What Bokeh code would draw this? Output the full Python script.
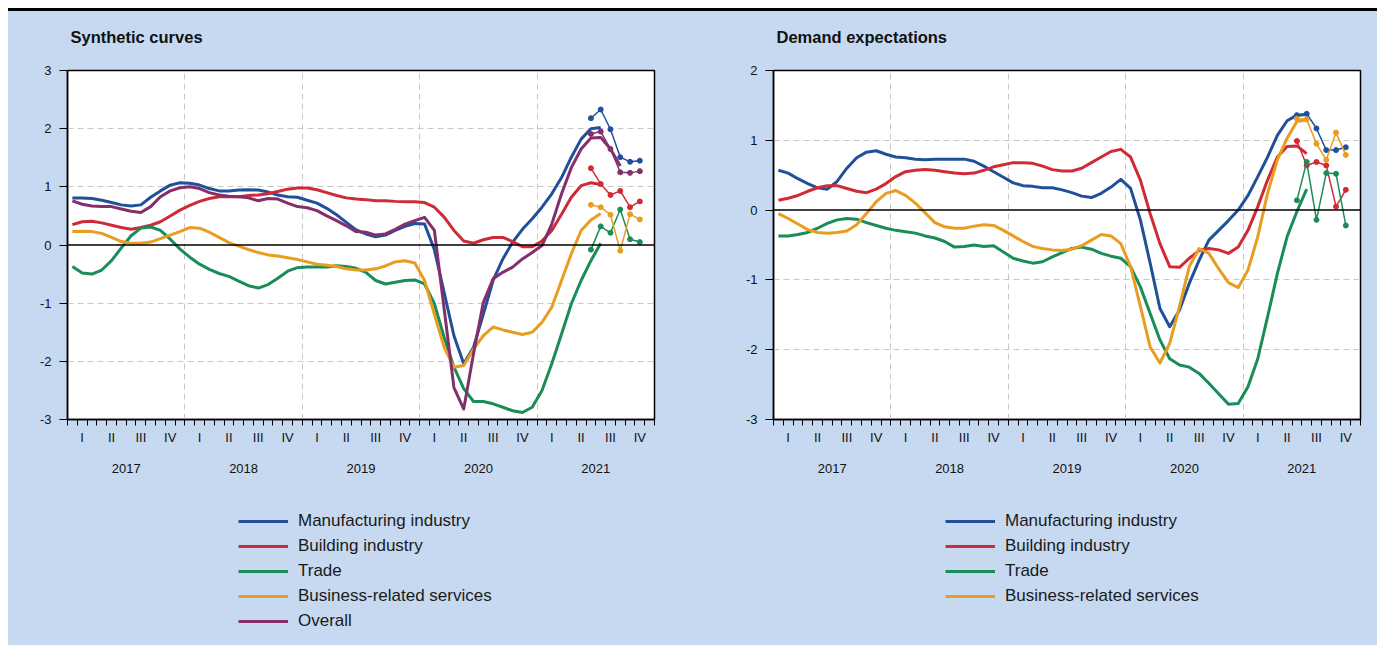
import numpy as np
from bokeh.plotting import figure
from bokeh.models import (Range1d, LinearAxis, FixedTicker, CustomJSTickFormatter, Span,
                          Legend, LegendItem, Div, Grid, Title)
from bokeh.layouts import row, column
from bokeh.embed import file_html
from bokeh.resources import INLINE

# ---------------- data (monthly, Jan 2017 = month 0) ----------------
years = [2017, 2018, 2019, 2020, 2021]
quarters = ["I", "II", "III", "IV"]
series_names = ["Manufacturing industry", "Building industry", "Trade",
                "Business-related services", "Overall"]

# Synthetic curves (Jan 2017 .. Jul 2021; Overall to Sep 2021)
syn_manufacturing = [0.81, 0.81, 0.80, 0.77, 0.73, 0.69, 0.67, 0.69, 0.82, 0.93, 1.03, 1.07,
                     1.06, 1.03, 0.97, 0.93, 0.93, 0.945, 0.95, 0.945, 0.91, 0.86, 0.83, 0.82,
                     0.77, 0.72, 0.63, 0.52, 0.39, 0.26, 0.19, 0.14, 0.17, 0.25, 0.32, 0.37,
                     0.36, -0.08, -0.82, -1.56, -2.04, -1.76, -1.19, -0.61, -0.24, 0.05, 0.27, 0.45,
                     0.65, 0.88, 1.16, 1.51, 1.82, 2.00, 2.02]
syn_building = [0.35, 0.40, 0.41, 0.38, 0.34, 0.30, 0.27, 0.30, 0.34, 0.40, 0.50, 0.60,
                0.68, 0.75, 0.80, 0.83, 0.83, 0.83, 0.85, 0.86, 0.88, 0.92, 0.96, 0.98,
                0.98, 0.95, 0.90, 0.85, 0.81, 0.79, 0.78, 0.76, 0.76, 0.75, 0.745, 0.745,
                0.73, 0.65, 0.48, 0.25, 0.07, 0.03, 0.09, 0.13, 0.13, 0.06, -0.03, -0.03,
                0.07, 0.25, 0.53, 0.82, 1.02, 1.07, 1.04]
syn_trade = [-0.37, -0.48, -0.50, -0.43, -0.27, -0.05, 0.16, 0.29, 0.31, 0.25, 0.10, -0.07,
             -0.21, -0.33, -0.42, -0.49, -0.54, -0.62, -0.70, -0.74, -0.68, -0.57, -0.45, -0.39,
             -0.38, -0.38, -0.38, -0.355, -0.37, -0.40, -0.47, -0.61, -0.67, -0.64, -0.61, -0.60,
             -0.67, -1.01, -1.59, -2.10, -2.47, -2.69, -2.69, -2.73, -2.79, -2.85, -2.88, -2.79,
             -2.50, -2.04, -1.53, -1.01, -0.61, -0.27, 0.03]
syn_services = [0.23, 0.235, 0.23, 0.20, 0.13, 0.06, 0.03, 0.03, 0.05, 0.11, 0.17, 0.23,
                0.30, 0.29, 0.22, 0.13, 0.04, -0.02, -0.08, -0.13, -0.17, -0.19, -0.22, -0.25,
                -0.29, -0.33, -0.35, -0.37, -0.41, -0.43, -0.43, -0.41, -0.36, -0.29, -0.27, -0.31,
                -0.61, -1.19, -1.76, -2.10, -2.07, -1.79, -1.56, -1.41, -1.46, -1.50, -1.54, -1.50,
                -1.33, -1.07, -0.61, -0.15, 0.25, 0.43, 0.54]
syn_overall = [0.76, 0.70, 0.67, 0.66, 0.66, 0.62, 0.58, 0.56, 0.66, 0.83, 0.93, 0.985,
               1.00, 0.97, 0.90, 0.86, 0.84, 0.83, 0.81, 0.76, 0.80, 0.79, 0.72, 0.66,
               0.64, 0.59, 0.50, 0.42, 0.33, 0.23, 0.22, 0.17, 0.19, 0.27, 0.36, 0.42,
               0.475, 0.25, -1.10, -2.45, -2.82, -1.87, -0.99, -0.58, -0.47, -0.38, -0.24, -0.13,
               -0.01, 0.36, 0.88, 1.33, 1.65, 1.84, 1.85, 1.65, 1.36]

# Latest monthly survey points (Jun .. Nov 2021)
point_start = 53
syn_pts_manufacturing = [2.18, 2.33, 1.99, 1.51, 1.43, 1.45]
syn_pts_building = [1.32, 1.05, 0.86, 0.93, 0.65, 0.75]
syn_pts_trade = [-0.08, 0.32, 0.21, 0.61, 0.10, 0.05]
syn_pts_services = [0.69, 0.65, 0.52, -0.10, 0.53, 0.44]
syn_pts_overall = [1.91, 1.95, 1.65, 1.25, 1.24, 1.27]

# Demand expectations (Jan 2017 .. Jul 2021)
dem_manufacturing = [0.57, 0.53, 0.45, 0.38, 0.32, 0.30, 0.41, 0.60, 0.75, 0.83, 0.85, 0.80,
                     0.76, 0.75, 0.73, 0.72, 0.73, 0.73, 0.73, 0.73, 0.70, 0.63, 0.55, 0.47,
                     0.39, 0.35, 0.34, 0.32, 0.32, 0.29, 0.25, 0.20, 0.18, 0.24, 0.33, 0.44,
                     0.31, -0.14, -0.76, -1.41, -1.67, -1.43, -1.05, -0.72, -0.43, -0.29, -0.15, 0.0,
                     0.21, 0.48, 0.76, 1.07, 1.28, 1.36, 1.37]
dem_building = [0.14, 0.17, 0.21, 0.27, 0.32, 0.35, 0.35, 0.31, 0.27, 0.25, 0.30, 0.38,
                0.48, 0.55, 0.57, 0.58, 0.57, 0.55, 0.53, 0.52, 0.53, 0.57, 0.62, 0.65,
                0.68, 0.68, 0.67, 0.63, 0.58, 0.56, 0.56, 0.60, 0.68, 0.76, 0.84, 0.87,
                0.76, 0.43, -0.05, -0.48, -0.81, -0.82, -0.69, -0.58, -0.55, -0.57, -0.62, -0.53,
                -0.29, 0.05, 0.43, 0.76, 0.91, 0.92, 0.81]
dem_trade = [-0.37, -0.37, -0.35, -0.32, -0.26, -0.19, -0.14, -0.12, -0.13, -0.18, -0.22, -0.26,
             -0.29, -0.31, -0.33, -0.37, -0.40, -0.45, -0.53, -0.52, -0.50, -0.52, -0.51, -0.60,
             -0.69, -0.73, -0.76, -0.74, -0.67, -0.61, -0.55, -0.53, -0.56, -0.62, -0.66, -0.69,
             -0.81, -1.10, -1.48, -1.86, -2.13, -2.22, -2.25, -2.34, -2.48, -2.63, -2.78, -2.77,
             -2.53, -2.13, -1.53, -0.91, -0.38, -0.02, 0.30]
dem_services = [-0.05, -0.12, -0.20, -0.28, -0.32, -0.33, -0.32, -0.30, -0.21, -0.05, 0.12, 0.24,
                0.28, 0.21, 0.10, -0.04, -0.18, -0.24, -0.26, -0.26, -0.23, -0.21, -0.22, -0.29,
                -0.37, -0.45, -0.52, -0.55, -0.57, -0.58, -0.56, -0.51, -0.43, -0.35, -0.37, -0.48,
                -0.81, -1.38, -1.96, -2.19, -1.91, -1.38, -0.81, -0.55, -0.62, -0.84, -1.04, -1.11,
                -0.86, -0.38, 0.24, 0.72, 1.03, 1.27, 1.29]

dem_pts_manufacturing = [1.36, 1.38, 1.17, 0.86, 0.86, 0.90]
dem_pts_building = [0.99, 0.64, 0.69, 0.64, 0.05, 0.29]
dem_pts_trade = [0.14, 0.69, -0.14, 0.53, 0.52, -0.22]
dem_pts_services = [1.31, 1.30, 0.95, 0.72, 1.11, 0.79]

# ---------------- style ----------------
BG = "#c6d9f0"
FONT = "Liberation Sans"
COLORS = ["#21509b", "#cf2a36", "#1a8c58", "#e89d20", "#842f6b"]
N_MONTHS = 12 * len(years)
LEGEND_H = 155


def make_panel(title, ymin, ymax, curves, points, names, bl, br, legend_xy):
    p = figure(frame_width=587, frame_height=349,
               x_range=Range1d(0, N_MONTHS), y_range=Range1d(ymin, ymax),
               x_axis_type=None, output_backend="svg", toolbar_location=None,
               min_border_left=bl, min_border_right=br, min_border_top=59,
               min_border_bottom=71)
    p.border_fill_color = BG
    p.background_fill_color = "white"
    p.outline_line_color = "black"
    p.outline_line_width = 1.5
    p.outline_line_alpha = 1.0

    # spacer between the title and the frame
    p.add_layout(Title(text=" ", text_font_size="1px", standoff=22), "above")

    p.title.text = title
    p.title.text_font = FONT
    p.title.text_font_size = "16.5px"
    p.title.text_font_style = "bold"
    p.title.text_color = "#111111"
    p.title.align = "left"
    p.title.vertical_align = "bottom"
    p.title.offset = 3
    p.title.standoff = 0

    # y axis
    ya = p.yaxis[0]
    ya.ticker = FixedTicker(ticks=list(range(ymin, ymax + 1)), minor_ticks=[])
    ya.formatter = CustomJSTickFormatter(code="return String(Math.round(tick));")
    ya.major_tick_out = 8
    ya.major_tick_in = 0
    ya.major_label_standoff = 8
    ya.axis_line_color = "black"
    ya.axis_line_width = 1.5
    ya.major_tick_line_color = "black"
    ya.major_label_text_font = FONT
    ya.major_label_text_font_size = "13px"
    ya.major_label_text_color = "#111111"

    # grids
    p.ygrid.ticker = FixedTicker(ticks=[v for v in range(ymin, ymax + 1) if v != 0])
    p.ygrid.grid_line_color = "#c8c8c8"
    p.ygrid.grid_line_dash = "6 4"
    p.ygrid.grid_line_width = 1
    xg = Grid(dimension=0, ticker=FixedTicker(ticks=[12 * i for i in range(1, len(years))]),
              grid_line_color="#c8c8c8", grid_line_dash="6 4", grid_line_width=1)
    p.add_layout(xg)

    p.add_layout(Span(location=0, dimension="width", line_color="black", line_width=1.5))

    # x axis: month ticks + quarter labels, then years
    q_ticks = [3 * i + 1.5 for i in range(4 * len(years))]
    axq = LinearAxis(ticker=FixedTicker(ticks=q_ticks, minor_ticks=list(range(N_MONTHS + 1))),
                     formatter=CustomJSTickFormatter(args=dict(labels=quarters),
                                                     code="return labels[Math.round((tick-1.5)/3) % 4];"))
    axq.major_tick_out = 0
    axq.major_tick_in = 0
    axq.minor_tick_out = 6
    axq.minor_tick_in = 0
    axq.minor_tick_line_color = "black"
    axq.axis_line_color = "black"
    axq.axis_line_width = 1.5
    axq.major_label_standoff = 4
    axq.major_label_text_font = FONT
    axq.major_label_text_font_size = "13px"
    axq.major_label_text_color = "#111111"
    p.add_layout(axq, "below")

    y_ticks = [12 * i + 6 for i in range(len(years))]
    axy = LinearAxis(ticker=FixedTicker(ticks=y_ticks, minor_ticks=[]),
                     formatter=CustomJSTickFormatter(args=dict(years=years),
                                                     code="return String(years[Math.round((tick-6)/12)]);"))
    axy.axis_line_color = None
    axy.major_tick_line_color = None
    axy.minor_tick_line_color = None
    axy.major_label_standoff = 10
    axy.major_label_text_font = FONT
    axy.major_label_text_font_size = "13px"
    axy.major_label_text_color = "#111111"
    p.add_layout(axy, "below")

    for vals, pts, col in zip(curves, points, COLORS):
        x = [i + 0.5 for i in range(len(vals))]
        p.line(x, vals, line_color=col, line_width=3, line_join="round")
        xp = [point_start + i + 0.5 for i in range(len(pts))]
        p.line(xp, pts, line_color=col, line_width=1.5)
        p.scatter(xp, pts, size=5, fill_color=col, line_color=col)

    # legend strip below the chart (dummy renderers lie outside its visible range)
    total_w = bl + 587 + br
    lf = figure(width=total_w, height=LEGEND_H, x_range=Range1d(0, 1), y_range=Range1d(0, 1),
                x_axis_type=None, y_axis_type=None, output_backend="svg",
                toolbar_location=None, min_border=0)
    lf.outline_line_color = None
    lf.background_fill_color = BG
    lf.border_fill_color = BG
    lf.xgrid.visible = False
    lf.ygrid.visible = False
    items = []
    for name, col in zip(names, COLORS):
        r = lf.line([5, 6], [5, 6], line_color=col, line_width=3)
        items.append(LegendItem(label=name, renderers=[r]))
    legend = Legend(items=items, location=legend_xy, orientation="vertical",
                    background_fill_alpha=0, border_line_alpha=0, padding=0, margin=0,
                    glyph_width=50, glyph_height=22, label_height=22, spacing=3,
                    label_standoff=10, label_text_font=FONT, label_text_font_size="17px",
                    label_text_color="#1a1a1a")
    lf.add_layout(legend)
    return column(p, lf, spacing=0)


p1 = make_panel("Synthetic curves", -3, 3,
                [syn_manufacturing, syn_building, syn_trade, syn_services, syn_overall],
                [syn_pts_manufacturing, syn_pts_building, syn_pts_trade, syn_pts_services, syn_pts_overall],
                series_names, 59, 42, (171, 13))
p2 = make_panel("Demand expectations", -3, 2,
                [dem_manufacturing, dem_building, dem_trade, dem_services],
                [dem_pts_manufacturing, dem_pts_building, dem_pts_trade, dem_pts_services],
                series_names[:4], 77, 17, (172, 38))

bar = Div(text="", width=1369, height=3, margin=0, styles={"background-color": "#000000"})
charts = row(p1, p2, spacing=0, styles={"background-color": BG})
layout = column(bar, charts, spacing=0, margin=(8, 0, 0, 8))

open("out.html", "w").write(file_html(layout, INLINE))
